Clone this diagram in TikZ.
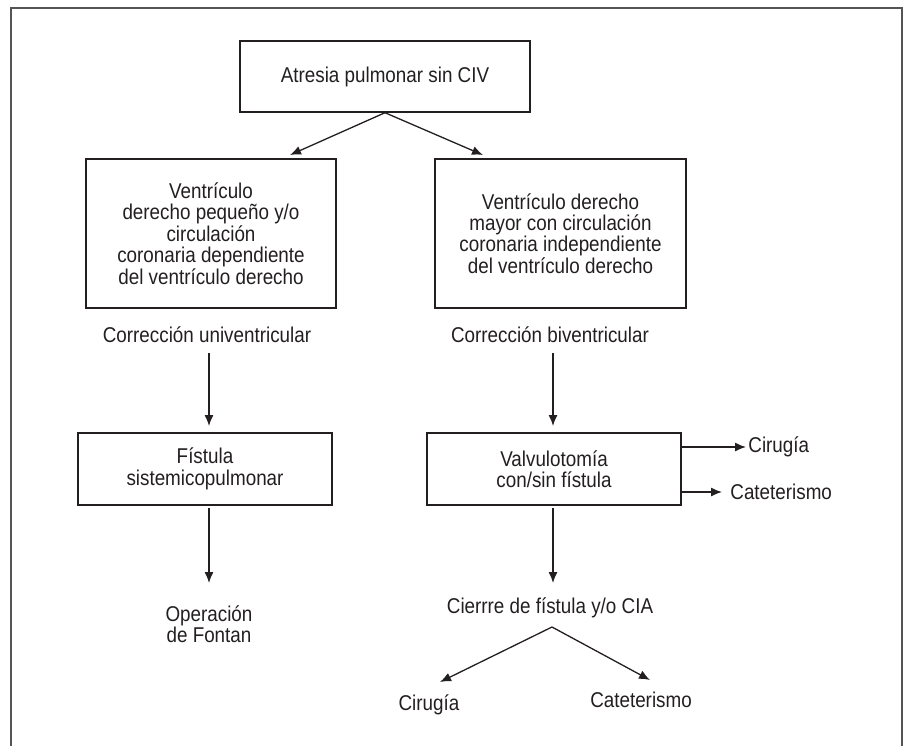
\documentclass[tikz,border=0pt]{standalone}
\usepackage{fontspec}
\setmainfont{Liberation Sans}[FakeStretch=0.88]
\usepackage{tikz}
\usetikzlibrary{arrows.meta}
\definecolor{ink}{HTML}{231F20}
\definecolor{framegray}{HTML}{555555}
\tikzset{
    box/.style = {draw=ink, line width=0.7pt, align=center, inner sep=0pt, text=ink},
    lbl/.style = {align=center, inner sep=0pt, text=ink},
    conn/.style = {-{Latex[length=5.5pt, width=4.5pt]}, draw=ink, line width=0.65pt}
}
\begin{document}
\begin{tikzpicture}[x=0.5pt, y=-0.5pt, font=\fontsize{10.7}{10.7}\selectfont]
    \useasboundingbox (0,0) rectangle (904,746);
    \draw [framegray, line width=0.8pt] (11,746) -- (11,8) -- (902,8) -- (902,746);
    % top
    \node [box, minimum width=145pt, minimum height=35.5pt] (atresia) at (385,76.5) {Atresia pulmonar sin CIV};
    \node [box, minimum width=125pt, minimum height=74.5pt] (rvsmall) at (211,233.5)
        {Ventrículo\\derecho pequeño y/o\\circulación\\coronaria dependiente\\del ventrículo derecho};
    \node [box, minimum width=125.5pt, minimum height=74.5pt] (rvlarge) at (560.5,233.5)
        {Ventrículo derecho\\mayor con circulación\\coronaria independiente\\del ventrículo derecho};
    \draw [conn] (atresia.south) -- (290,155);
    \draw [conn] (atresia.south) -- (483,155);
    % left branch
    \node [lbl] (univ) at (207,335) {Corrección univentricular};
    \node [box, minimum width=127pt, minimum height=36pt] (fistula) at (205,469) {Fístula\\sistemicopulmonar};
    \node [lbl] (fontan) at (209,624) {Operación\\de Fontan};
    \coordinate (u1) at (209,353);
    \coordinate (u2) at (209,508);
    \draw [conn] (u1) -- (u1 |- 0,426);
    \draw [conn] (u2) -- (u2 |- 0,583);
    % right branch
    \node [lbl] (biv) at (550,335) {Corrección biventricular};
    \node [box, minimum width=127pt, minimum height=36pt] (valvu) at (554,469) {Valvulotomía\\con/sin fístula};
    \node [lbl, anchor=west] (cir1) at (748,447) {Cirugía};
    \node [lbl, anchor=west] (cat1) at (730,492) {Cateterismo};
    \node [lbl] (cierre) at (550,608) {Cierrre de fístula y/o CIA};
    \node [lbl] (cir2) at (429,705) {Cirugía};
    \node [lbl] (cat2) at (641,700) {Cateterismo};
    \coordinate (b1) at (553,353);
    \coordinate (b2) at (553,508);
    \coordinate (split) at (552,627);
    \draw [conn] (b1) -- (b1 |- 0,426);
    \draw [conn] (valvu.east |- cir1) -- ([xshift=-1pt]cir1.west);
    \draw [conn] (valvu.east |- cat1) -- ([xshift=-4pt]cat1.west);
    \draw [conn] (b2) -- (b2 |- 0,583);
    \draw [conn] (split) -- (440,682);
    \draw [conn] (split) -- (650,680);
\end{tikzpicture}
\end{document}
